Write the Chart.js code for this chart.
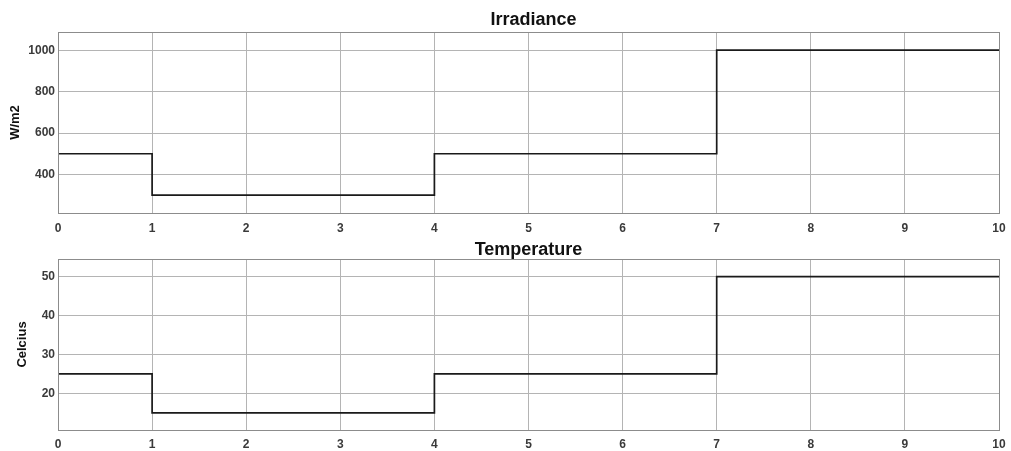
<!DOCTYPE html>
<html>
<head>
<meta charset="utf-8">
<script src="https://cdn.jsdelivr.net/npm/chart.js@4/dist/chart.umd.min.js"></script>
<style>
  html, body { margin: 0; padding: 0; background: #fff; }
  #wrap { position: relative; width: 1011px; height: 451px; overflow: hidden; }
  .box { position: absolute; left: 0; width: 1011px; }
  #topBox { top: 0; height: 238px; }
  #botBox { top: 230px; height: 221px; }
</style>
</head>
<body>
<div id="wrap">
  <div class="box" id="topBox"><canvas id="irr"></canvas></div>
  <div class="box" id="botBox"><canvas id="temp"></canvas></div>
</div>
<script>
// step inputs (value holds until next change point)
const times       = [0, 1, 4, 7, 10];
const irradiance  = [500, 300, 500, 1000, 1000];
const temperature = [25, 15, 25, 50, 50];
const xTicks      = [0, 1, 2, 3, 4, 5, 6, 7, 8, 9, 10];
const irrTicks    = [400, 600, 800, 1000];
const tempTicks   = [20, 30, 40, 50];

const FONT = "'Liberation Sans', Arial, Helvetica, sans-serif";
const gridC = '#b4b4b4';
const tickC = '#3a3a3a';

const framePlugin = {
  id: 'frame',
  afterDraw(chart) {
    const a = chart.chartArea, ctx = chart.ctx;
    ctx.save();
    ctx.strokeStyle = '#8c8c8c';
    ctx.lineWidth = 1;
    ctx.strokeRect(Math.round(a.left) + 0.5, Math.round(a.top) + 0.5, Math.round(a.right - a.left), Math.round(a.bottom - a.top));
    ctx.restore();
  }
};

function makeChart(id, title, yLabel, values, yMin, yMax, yTicks, cfg) {
  const ctx = document.getElementById(id).getContext('2d');
  return new Chart(ctx, {
    type: 'line',
    data: { datasets: [{
      data: times.map((t, i) => ({ x: t, y: values[i] })),
      stepped: 'before', borderColor: '#1a1a1a', borderWidth: 1.7,
      pointRadius: 0, fill: false
    }]},
    options: {
      responsive: true, maintainAspectRatio: false, animation: false,
      layout: { padding: { left: 0, right: 12, top: 0, bottom: 0 } },
      plugins: {
        legend: { display: false }, tooltip: { enabled: false },
        title: {
          display: true, text: title, color: '#111', fullSize: false,
          font: { family: FONT, size: 18, weight: 'bold', lineHeight: 1 },
          padding: { top: cfg.titleTop, bottom: cfg.titleBottom }
        }
      },
      scales: {
        x: {
          type: 'linear', min: 0, max: 10,
          afterBuildTicks: s => { s.ticks = xTicks.map(v => ({ value: v })); },
          afterFit: s => { s.height = cfg.xHeight; s.paddingRight = 0; s.paddingLeft = 0; },
          grid: { color: gridC, drawTicks: false },
          border: { color: '#8c8c8c' },
          ticks: { color: tickC, padding: cfg.xPad, maxRotation: 0, autoSkip: false,
                   callback: v => String(v),
                   font: { family: FONT, size: 12, weight: 'bold' } }
        },
        y: {
          type: 'linear', min: yMin, max: yMax,
          afterBuildTicks: s => { s.ticks = yTicks.map(v => ({ value: v })); },
          afterFit: s => { s.width = 58; },
          grid: { color: gridC, drawTicks: false },
          border: { color: '#8c8c8c' },
          ticks: { color: tickC, padding: 3, callback: v => String(v),
                   font: { family: FONT, size: 12, weight: 'bold' } },
          title: { display: true, text: yLabel, color: '#111',
                   font: { family: FONT, size: 13, weight: 'bold' },
                   padding: { top: cfg.yTitlePad, bottom: 0 } }
        }
      }
    },
    plugins: [framePlugin]
  });
}

makeChart('irr', '  Irradiance', 'W/m2', irradiance, 214, 1088, irrTicks,
  { titleTop: 11, titleBottom: 3, xHeight: 25, xPad: 8, yTitlePad: 8 });
makeChart('temp', 'Temperature', 'Celcius', temperature, 10.6, 54.5, tempTicks,
  { titleTop: 11, titleBottom: 0, xHeight: 21, xPad: 7, yTitlePad: 15 });
</script>
</body>
</html>
